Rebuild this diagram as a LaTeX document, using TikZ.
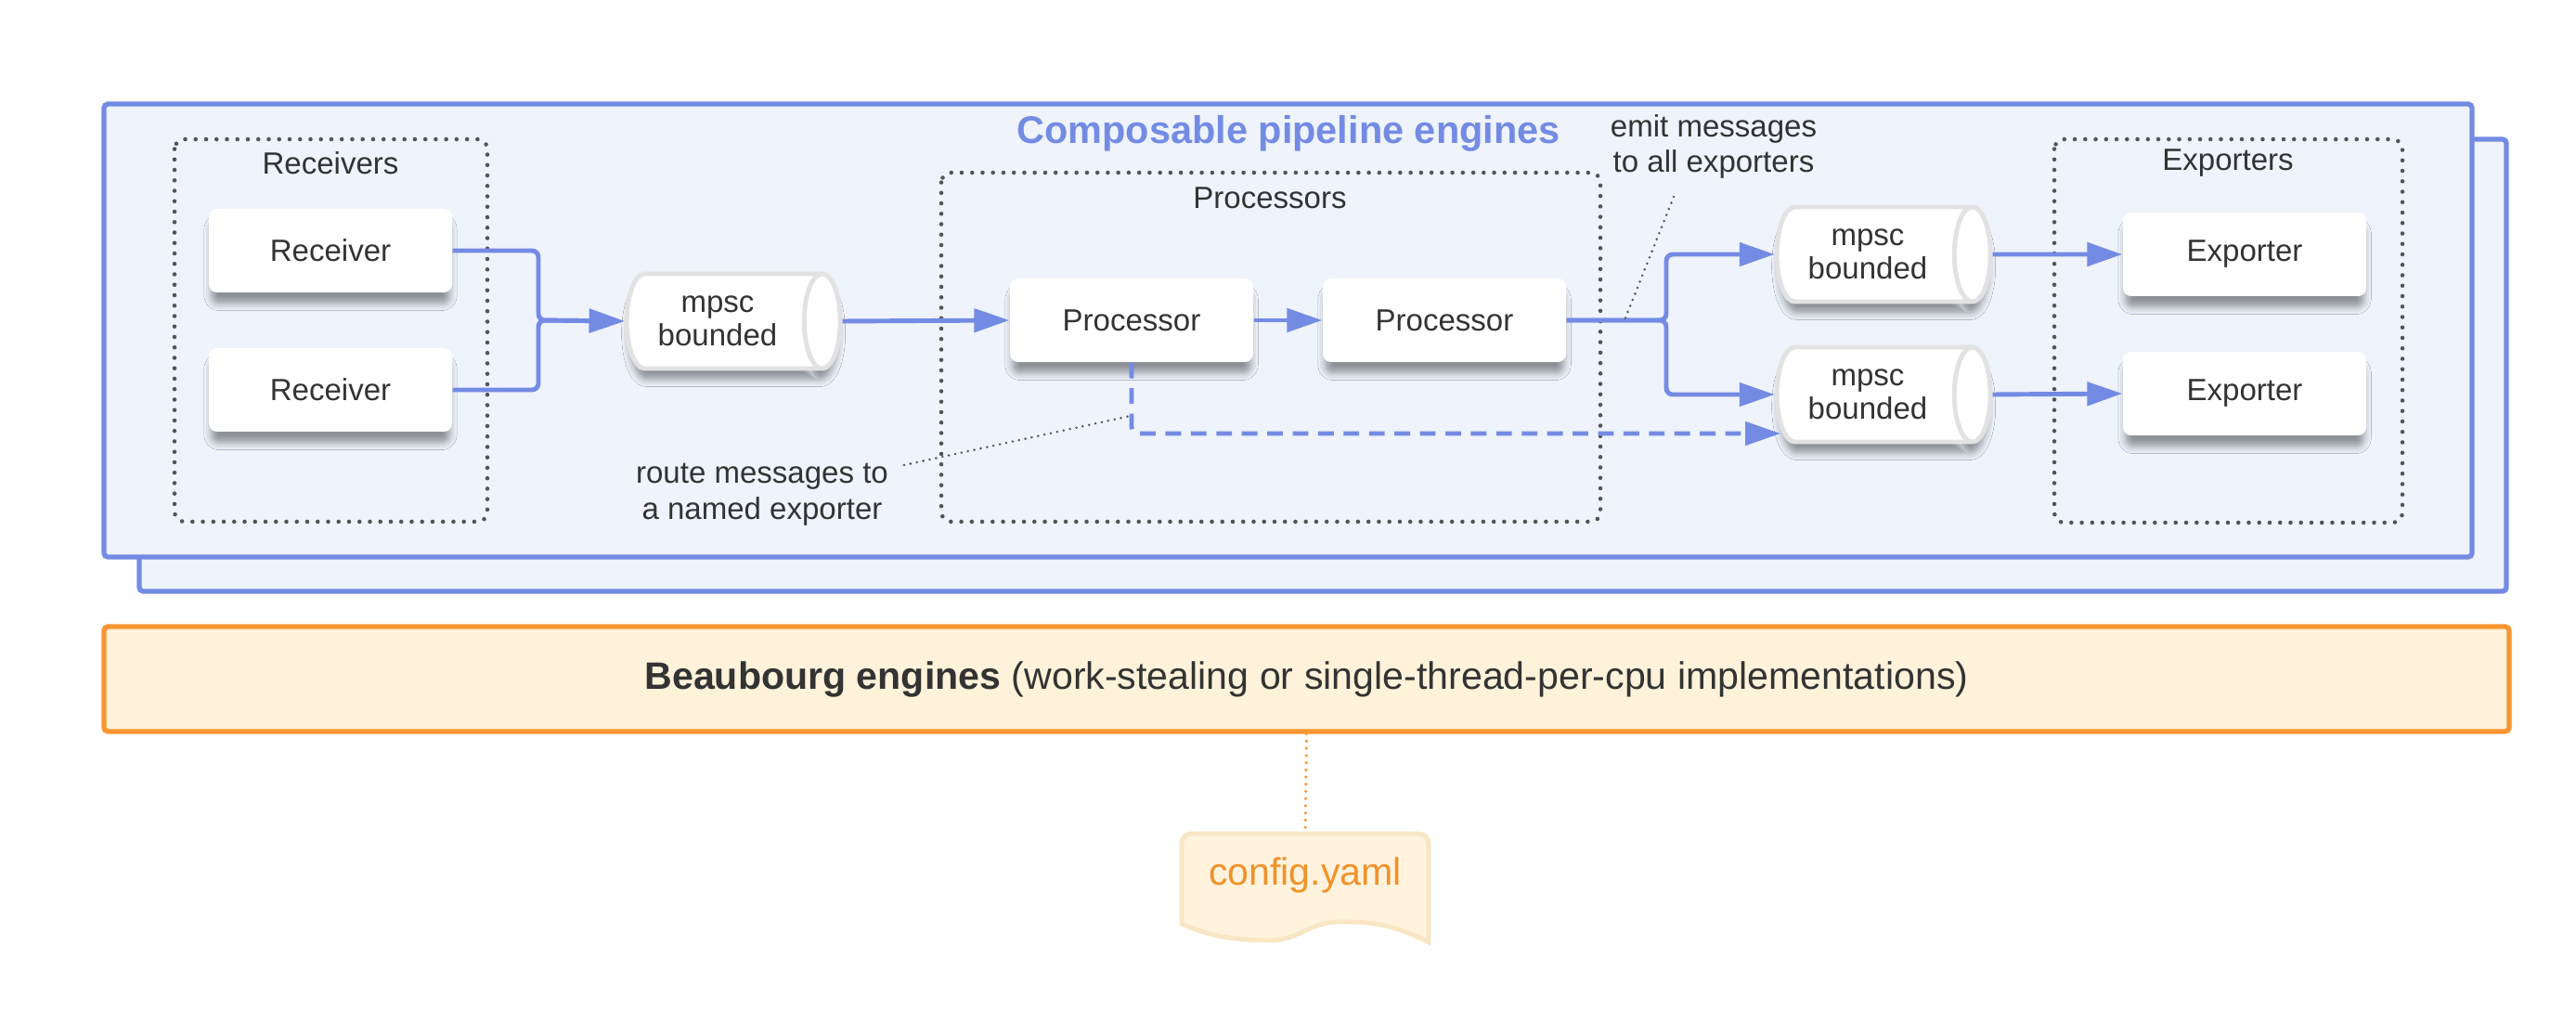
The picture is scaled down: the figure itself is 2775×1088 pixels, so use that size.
\documentclass[tikz,border=0pt]{standalone}
\usepackage{fontspec}
\setmainfont{Liberation Sans}
\usetikzlibrary{arrows.meta,shapes.geometric,shadows.blur}
\definecolor{pl_blue}{RGB}{116, 139, 228}
\definecolor{pl_bg}{RGB}{238, 243, 252}
\definecolor{bb_orange}{RGB}{251, 149, 48}
\definecolor{bb_bg}{RGB}{254, 242, 218}
\definecolor{cfg_text}{RGB}{240, 146, 42}
\definecolor{cfg_line}{RGB}{248, 230, 196}
\definecolor{cfg_bg}{RGB}{255, 243, 221}
\definecolor{txt}{RGB}{51, 51, 51}
\definecolor{grp_gray}{RGB}{85, 85, 85}
\definecolor{rim}{RGB}{226, 226, 226}
\tikzstyle{engine}=[draw=pl_blue,fill=pl_bg,line width=1.5pt,rounded corners=1.2pt]
\tikzstyle{groupbox}=[draw=grp_gray,line width=1.3pt,line cap=round,
  dash pattern=on 0pt off 3.2pt,rounded corners=3pt]
\tikzstyle{box}=[rectangle,fill=white,rounded corners=2.5pt,
  minimum width=26.2mm,minimum height=9mm,text=txt,font=\fontsize{9.4}{11}\selectfont,
  blur shadow={shadow xshift=0pt,shadow yshift=-1.3mm,shadow scale=0.98,
    shadow blur radius=0.8mm,shadow opacity=40}]
\tikzstyle{pipe}=[cylinder,draw=rim,fill=white,line width=1.4pt,aspect=0.5,
  minimum width=10.2mm,minimum height=23mm,align=center,text=txt,
  font=\fontsize{9.4}{10.3}\selectfont,
  blur shadow={shadow xshift=0pt,shadow yshift=-1.3mm,shadow scale=0.98,
    shadow blur radius=0.8mm,shadow opacity=40}]
\tikzstyle{remarktext}=[text=txt,font=\fontsize{9.4}{11}\selectfont,align=center]
\tikzstyle{flow}=[draw=pl_blue,line width=1.4pt,rounded corners=2pt,
  -{Triangle[length=10.8pt,width=7.1pt]}]
\tikzstyle{route}=[flow,dash pattern=on 4.8pt off 3pt]
\tikzstyle{remark}=[draw=grp_gray,line width=0.8pt,line cap=round,dash pattern=on 0pt off 2pt]
\tikzstyle{none}=[]

\begin{document}
\begin{tikzpicture}[x=0.1mm,y=-0.1mm]
    \useasboundingbox (0,0) rectangle (2775,1088);
    % engine frames
    \draw [style=engine] (150,150) rectangle (2700,637);
    \draw [style=engine] (112,112) rectangle (2663,600);
    \node [text=pl_blue,font=\fontsize{11.8}{14}\bfseries] (9) at (1388,144) {Composable pipeline engines};
    % groups
    \draw [style=groupbox] (188,150) rectangle (525,562);
    \draw [style=groupbox] (1014,186) rectangle (1724,562);
    \draw [style=groupbox] (2213,150) rectangle (2588,563);
    \node [style=remarktext] (10) at (356,176) {Receivers};
    \node [style=remarktext] (11) at (1368,213) {Processors};
    \node [style=remarktext] (12) at (2400,176) {Exporters};
    % nodes
    \node [style=box] (0) at (356,270) {Receiver};
    \node [style=box] (1) at (356,420) {Receiver};
    \node [style=pipe] (2) at (773,346) {mpsc\\bounded};
    \node [style=box] (3) at (1219,345) {Processor};
    \node [style=box] (4) at (1556,345) {Processor};
    \node [style=pipe] (5) at (2012,274) {mpsc\\bounded};
    \node [style=pipe] (6) at (2012,425) {mpsc\\bounded};
    \node [style=box] (7) at (2418,274) {Exporter};
    \node [style=box] (8) at (2418,424) {Exporter};
    \node [style=remarktext] (13) at (1846,158) {emit messages\\to all exporters};
    \node [style=remarktext] (14) at (821,533) {route messages to\\a named exporter};
    \node [style=none] (20) at (580,345) {};
    \node [style=none] (21) at (1795,345) {};
    \node [style=none] (22) at (1918,467) {};
    \node [style=none] (23) at (974,501) {};
    \node [style=none] (24) at (1218,448) {};
    \node [style=none] (25) at (1803,212) {};
    \node [style=none] (26) at (1750,345) {};
    % connectors
    \draw [style=flow] (0.east) -| (20.center) -- (2.west);
    \draw [style=flow] (1.east) -| (20.center) -- (2.west);
    \draw [style=flow] (2.east) -- (3.west);
    \draw [style=flow] (3) -- (4);
    \draw [style=flow] (4.east) -- (21.center) |- (5.west);
    \draw [style=flow] (4.east) -- (21.center) |- (6.west);
    \draw [style=flow] (5.east) -- (7.west);
    \draw [style=flow] (6.east) -- (8.west);
    \draw [style=route] (3.south) |- (22.center);
    \draw [style=remark] (23.center) -- (24.center);
    \draw [style=remark] (25.center) -- (26.center);
    % runtime
    \node [draw=bb_orange,fill=bb_bg,line width=1.5pt,rounded corners=1.2pt,
      minimum width=259.1mm,minimum height=11.3mm,text=txt,font=\fontsize{11.7}{14}\selectfont]
      (15) at (1407.5,731.5) {\textbf{Beaubourg engines} (work-stealing or single-thread-per-cpu implementations)};
    \draw [fill=cfg_bg,draw=cfg_line,line width=1.4pt] (1273,995) [rounded corners=3pt] -- (1273,898) -- (1539,898)
      [sharp corners] -- (1539,1015) .. controls (1500,995) and (1475,993) .. (1444,993)
      .. controls (1410,993) and (1400,1013) .. (1368,1013) .. controls (1330,1013) and (1300,1008) .. (1273,995) -- cycle;
    \node [text=cfg_text,font=\fontsize{11.7}{14}\selectfont] (16) at (1406,943) {config.yaml};
    \node [style=none] (27) at (1406,898) {};
    \draw [draw=bb_orange,line width=1pt,line cap=round,dash pattern=on 0pt off 2.2pt] (15.south) -- (27.center);
\end{tikzpicture}
\end{document}
